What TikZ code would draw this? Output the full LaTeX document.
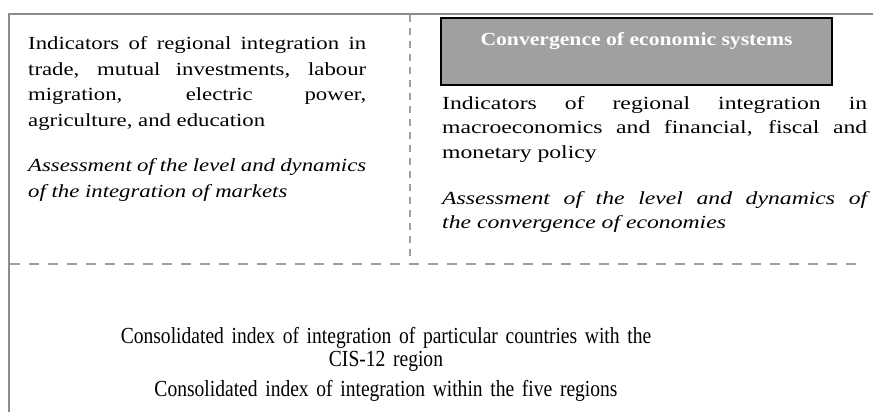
\documentclass[tikz,border=0pt]{standalone}
\usepackage{fontspec}
\setmainfont{Liberation Serif}
% stretched and condensed cuts of the same serif face
\newfontfamily\widefont[FakeStretch=1.23]{Liberation Serif}
\newfontfamily\widerfont[FakeStretch=1.28]{Liberation Serif}
\newfontfamily\headfont[FakeStretch=1.17]{Liberation Serif}
\newfontfamily\narrowfont[FakeStretch=0.85]{Liberation Serif}
\definecolor{framegray}{RGB}{140,140,140}
\definecolor{dashgray}{RGB}{160,160,160}
\definecolor{boxgray}{RGB}{160,160,160}
\begin{document}
\begin{tikzpicture}[x=1pt,y=-1pt,
  frameline/.style={draw=framegray,line width=2pt},
  vdash/.style={draw=dashgray,line width=2pt,dash pattern=on 7pt off 6pt},
  hdash/.style={draw=dashgray,line width=2.5pt,dash pattern=on 10pt off 9pt},
  textblock/.style={inner sep=0pt,anchor=base west,align=justify},
  titlebox/.style={draw=black,line width=2pt,fill=boxgray},
  titletext/.style={inner sep=0pt,anchor=base,text=white,font=\headfont\bfseries\fontsize{18.5}{21}\selectfont},
  summary/.style={inner sep=0pt,anchor=base,align=center,text width=700pt,font=\narrowfont\fontsize{23}{23.5}\selectfont}]
\useasboundingbox (0,0) rectangle (873,412);

% outer frame: top and left rules
\coordinate (tl) at (9,14);
\coordinate (tr) at (873,14);
\coordinate (bl) at (9,412);
\draw[frameline] (tr) -- (tl) -- (bl);

% column divider and row divider
\coordinate (vtop) at (410,15);
\coordinate (vbot) at (410,262);
\coordinate (hl) at (10,264);
\coordinate (hr) at (864,264);
\draw[vdash] (vtop) -- (vbot);
\draw[hdash] (hl) -- (hr);

% left column: integration of markets
\node[textblock,text width=338pt,font=\widefont\fontsize{18.5}{25.5}\selectfont] (markets) at (28,50)
  {\hyphenpenalty=10000\tolerance=10000
   Indicators of regional integration in\linebreak
   trade, mutual investments, labour\linebreak
   migration, electric power,\linebreak
   agriculture, and education\par\vspace{20pt}
   \textit{Assessment of the level and dynamics\linebreak
   of the integration of markets}};

% right column: convergence of economic systems
\draw[titlebox] (441,18) rectangle (832,85);
\node[titletext] (conv) at (636.5,46) {Convergence of economic systems};

\node[textblock,text width=425pt,font=\widerfont\fontsize{18.5}{24}\selectfont] (econ) at (442,110)
  {\hyphenpenalty=10000\tolerance=10000
   Indicators of regional integration in\linebreak
   macroeconomics and financial, fiscal and\linebreak
   monetary policy\par\vspace{23pt}
   \textit{Assessment of the level and dynamics of\linebreak
   the convergence of economies}};

% bottom row: consolidated indices
\node[summary] (cis) at (386,343)
  {Consolidated index of integration of particular countries with the\\
   CIS-12 region};
\node[summary] (five) at (386,396)
  {Consolidated index of integration within the five regions};
\end{tikzpicture}
\end{document}
